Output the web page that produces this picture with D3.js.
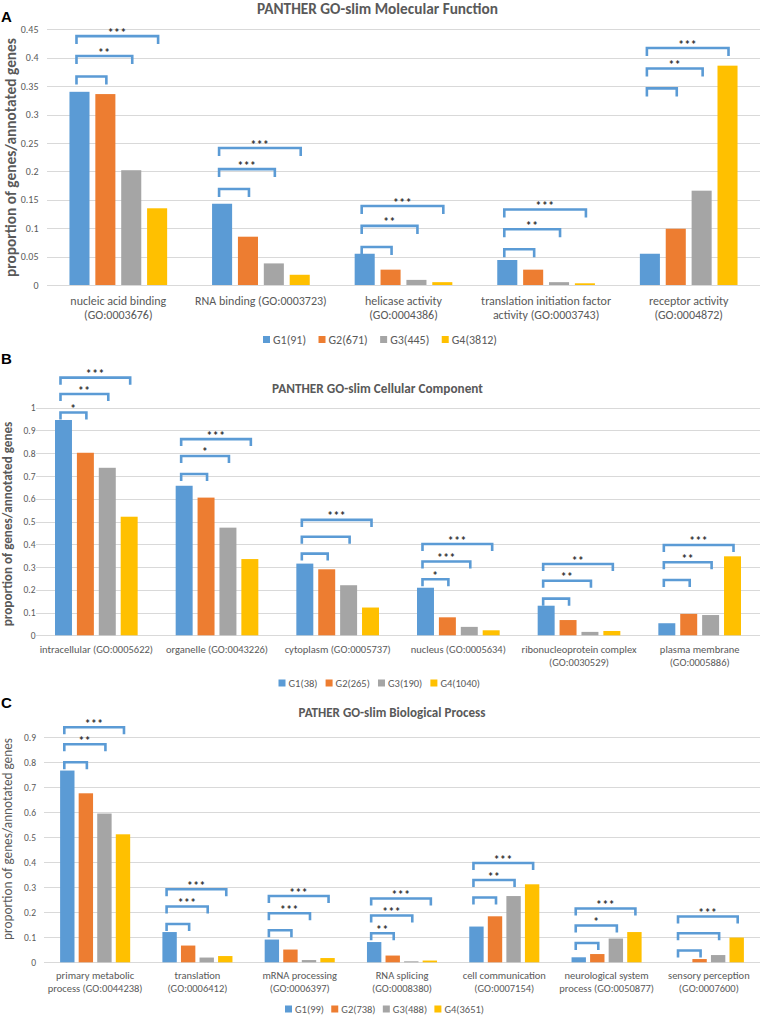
<!DOCTYPE html>
<html><head><meta charset="utf-8">
<script src="https://cdn.jsdelivr.net/npm/d3@7"></script>
<style>
html,body{margin:0;padding:0;background:#fff;}
svg{display:block;font-family:Carlito,Lato,"Open Sans",sans-serif;}
</style></head>
<body>
<svg id="chart" width="761" height="1015"></svg>
<script>
// ---------- DATA ----------
const groups = ["G1", "G2", "G3", "G4"];

// Panel A: Molecular Function
const mfTitle = "PANTHER GO-slim Molecular Function";
const mfCategories = [
  ["nucleic acid binding", "(GO:0003676)"],
  ["RNA binding (GO:0003723)"],
  ["helicase activity", "(GO:0004386)"],
  ["translation initiation factor", "activity (GO:0003743)"],
  ["receptor activity", "(GO:0004872)"]
];
const mfG1 = [0.340, 0.143, 0.055, 0.044, 0.055];
const mfG2 = [0.336, 0.085, 0.027, 0.027, 0.099];
const mfG3 = [0.202, 0.038, 0.009, 0.005, 0.166];
const mfG4 = [0.135, 0.018, 0.005, 0.003, 0.386];
const mfLegend = ["G1(91)", "G2(671)", "G3(445)", "G4(3812)"];
const mfTicks = [0, 0.05, 0.1, 0.15, 0.2, 0.25, 0.3, 0.35, 0.4, 0.45];
// significance brackets: [category index, target group, bracket level (y value), label]
const mfBrackets = [
  [0, "G2", 0.367, ""], [0, "G3", 0.403, "**"], [0, "G4", 0.438, "***"],
  [1, "G2", 0.169, ""], [1, "G3", 0.204, "***"], [1, "G4", 0.241, "***"],
  [2, "G2", 0.067, ""], [2, "G3", 0.104, "**"], [2, "G4", 0.139, "***"],
  [3, "G2", 0.063, ""], [3, "G3", 0.098, "**"], [3, "G4", 0.133, "***"],
  [4, "G2", 0.346, ""], [4, "G3", 0.381, "**"], [4, "G4", 0.417, "***"]
];

// Panel B: Cellular Component
const ccTitle = "PANTHER GO-slim Cellular Component";
const ccCategories = [
  ["intracellular (GO:0005622)"],
  ["organelle (GO:0043226)"],
  ["cytoplasm (GO:0005737)"],
  ["nucleus (GO:0005634)"],
  ["ribonucleoprotein complex", "(GO:0030529)"],
  ["plasma membrane", "(GO:0005886)"]
];
const ccG1 = [0.946, 0.657, 0.315, 0.209, 0.130, 0.053];
const ccG2 = [0.802, 0.605, 0.290, 0.079, 0.067, 0.094];
const ccG3 = [0.736, 0.473, 0.220, 0.037, 0.015, 0.089];
const ccG4 = [0.521, 0.335, 0.122, 0.022, 0.019, 0.347];
const ccLegend = ["G1(38)", "G2(265)", "G3(190)", "G4(1040)"];
const ccTicks = [0, 0.1, 0.2, 0.3, 0.4, 0.5, 0.6, 0.7, 0.8, 0.9, 1];
const ccBrackets = [
  [0, "G2", 0.979, "*"], [0, "G3", 1.060, "**"], [0, "G4", 1.132, "***"],
  [1, "G2", 0.709, ""], [1, "G3", 0.788, "*"], [1, "G4", 0.862, "***"],
  [2, "G2", 0.359, ""], [2, "G3", 0.433, ""], [2, "G4", 0.507, "***"],
  [3, "G2", 0.246, "*"], [3, "G3", 0.324, "***"], [3, "G4", 0.401, "***"],
  [4, "G2", 0.161, ""], [4, "G3", 0.240, "**"], [4, "G4", 0.313, "**"],
  [5, "G2", 0.243, ""], [5, "G3", 0.321, "**"], [5, "G4", 0.397, "***"]
];

// Panel C: Biological Process
const bpTitle = "PATHER GO-slim Biological Process";
const bpCategories = [
  ["primary metabolic", "process (GO:0044238)"],
  ["translation", "(GO:0006412)"],
  ["mRNA processing", "(GO:0006397)"],
  ["RNA splicing", "(GO:0008380)"],
  ["cell communication", "(GO:0007154)"],
  ["neurological system", "process (GO:0050877)"],
  ["sensory perception", "(GO:0007600)"]
];
const bpG1 = [0.767, 0.121, 0.091, 0.081, 0.143, 0.020, 0.000];
const bpG2 = [0.676, 0.067, 0.051, 0.027, 0.184, 0.033, 0.013];
const bpG3 = [0.595, 0.019, 0.009, 0.004, 0.265, 0.095, 0.029];
const bpG4 = [0.512, 0.025, 0.017, 0.007, 0.312, 0.121, 0.099];
const bpLegend = ["G1(99)", "G2(738)", "G3(488)", "G4(3651)"];
const bpTicks = [0, 0.1, 0.2, 0.3, 0.4, 0.5, 0.6, 0.7, 0.8, 0.9];
const bpBrackets = [
  [0, "G2", 0.800, ""], [0, "G3", 0.872, "**"], [0, "G4", 0.940, "***"],
  [1, "G2", 0.153, ""], [1, "G3", 0.223, "***"], [1, "G4", 0.292, "***"],
  [2, "G2", 0.128, ""], [2, "G3", 0.196, "***"], [2, "G4", 0.265, "***"],
  [3, "G2", 0.116, "**"], [3, "G3", 0.187, "***"], [3, "G4", 0.255, "***"],
  [4, "G2", 0.259, ""], [4, "G3", 0.329, "**"], [4, "G4", 0.397, "***"],
  [5, "G2", 0.077, ""], [5, "G3", 0.147, "*"], [5, "G4", 0.215, "***"],
  [6, "G2", 0.047, ""], [6, "G3", 0.116, ""], [6, "G4", 0.183, "***"]
];

const yTitle = "proportion of genes/annotated genes";

// ---------- STYLE / LAYOUT ----------
const colors = {G1: "#5B9BD5", G2: "#ED7D31", G3: "#A5A5A5", G4: "#FFC000"};
const textGray = "#595959";
const gridColor = "#D9D9D9";

const panels = [
  {letter: "A", letterY: 22, title: mfTitle, titleX: 377.5, titleY: 8, titleW: 241,
   cats: mfCategories, series: [mfG1, mfG2, mfG3, mfG4], legend: mfLegend, ticks: mfTicks, brackets: mfBrackets,
   x0: 47, x1: 760, yMax: 0.45, yTop: 29.3, yBottom: 285, tickX: 38.5, tickSize: 10,
   labelY: 301, labelDy: 14.3, labelSize: 12, legendY: 339.5, legendL: 263, legendR: 497, legendSize: 12,
   yTitleX: 10, yTitleY: 157.5, yTitleW: 239, yTitleWeight: "bold", leg: 8},
  {letter: "B", letterY: 364, title: ccTitle, titleX: 377.5, titleY: 388.5, titleW: 211,
   cats: ccCategories, series: [ccG1, ccG2, ccG3, ccG4], legend: ccLegend, ticks: ccTicks, brackets: ccBrackets,
   x0: 36, x1: 760, yMax: 1, yTop: 407.7, yBottom: 635.3, tickX: 35.5, tickSize: 9.5,
   labelY: 649, labelDy: 13, labelSize: 10.5, legendY: 683, legendL: 278.5, legendR: 480, legendSize: 10.5,
   yTitleX: 7.5, yTitleY: 524, yTitleW: 205, yTitleWeight: "bold", leg: 7},
  {letter: "C", letterY: 708, title: bpTitle, titleX: 392, titleY: 713, titleW: 187,
   cats: bpCategories, series: [bpG1, bpG2, bpG3, bpG4], legend: bpLegend, ticks: bpTicks, brackets: bpBrackets,
   x0: 44, x1: 760, yMax: 0.9, yTop: 737.3, yBottom: 962.3, tickX: 36, tickSize: 9.5,
   labelY: 975.7, labelDy: 12.8, labelSize: 10.5, legendY: 1009, legendL: 285, legendR: 484, legendSize: 10.5,
   yTitleX: 7.5, yTitleY: 839, yTitleW: 202, yTitleWeight: "normal", leg: 7}
];

const svg = d3.select("#chart");
const fmt = d => d === 0 ? "0" : String(+d.toFixed(2));

// fit a text element's font-size to a target width
function fitText(sel, targetW, base) {
  sel.attr("font-size", base);
  const w = sel.node().getComputedTextLength();
  if (w > 0) sel.attr("font-size", base * targetW / w);
}

panels.forEach(p => {
  const g = svg.append("g");
  const catIdx = p.cats.map((c, i) => i);
  const x0 = d3.scaleBand().domain(catIdx).range([p.x0, p.x1]).paddingInner(0.315).paddingOuter(0.1575);
  const x1 = d3.scaleBand().domain(groups).range([0, x0.bandwidth()]).paddingInner(0.225).paddingOuter(0);
  const y = d3.scaleLinear().domain([0, p.yMax]).range([p.yBottom, p.yTop]);

  // gridlines
  g.append("g").selectAll("line").data(p.ticks).join("line")
    .attr("x1", p.x0).attr("x2", p.x1)
    .attr("y1", d => Math.round(y(d)) + 0.5).attr("y2", d => Math.round(y(d)) + 0.5)
    .attr("stroke", gridColor).attr("stroke-width", 1);

  // y axis tick labels via d3 axis
  const axis = d3.axisLeft(y).tickValues(p.ticks).tickFormat(fmt).tickSize(0).tickPadding(0);
  const ag = g.append("g").attr("transform", `translate(${p.tickX},0)`).call(axis);
  ag.select(".domain").remove();
  ag.selectAll("text").attr("fill", textGray).attr("font-size", p.tickSize)
    .attr("font-family", "Carlito,Lato,'Open Sans',sans-serif");

  // bars
  const rows = catIdx.map(i => groups.map((k, j) => ({cat: i, key: k, value: p.series[j][i]})));
  g.append("g").selectAll("g").data(rows).join("g")
    .attr("transform", (d, i) => `translate(${x0(i)},0)`)
    .selectAll("rect").data(d => d).join("rect")
    .attr("x", d => x1(d.key)).attr("width", x1.bandwidth())
    .attr("y", d => y(d.value)).attr("height", d => y(0) - y(d.value))
    .attr("fill", d => colors[d.key]);

  // brackets
  const bg = g.append("g");
  p.brackets.forEach(([ci, to, level, label]) => {
    const xl = x0(ci) + x1("G1") + x1.bandwidth() / 2 - 3;
    const xr = x0(ci) + x1(to) + x1.bandwidth() / 2 + 1;
    const yt = y(level);
    bg.append("path")
      .attr("d", `M${xl},${yt + p.leg}V${yt}H${xr}V${yt + p.leg}`)
      .attr("fill", "none").attr("stroke", "#5B9BD5").attr("stroke-width", 2.6);
    if (label) {
      bg.append("text").attr("x", (xl + xr) / 2).attr("y", yt + 0.5)
        .attr("text-anchor", "middle").attr("font-size", 11.5).attr("font-weight", "bold")
        .attr("letter-spacing", 0.6)
        .attr("fill", "#333").text(label);
    }
  });

  // category labels
  const lg = g.append("g");
  p.cats.forEach((lines, i) => {
    lines.forEach((ln, k) => {
      lg.append("text").attr("x", x0(i) + x0.bandwidth() / 2).attr("y", p.labelY + k * p.labelDy)
        .attr("dominant-baseline", "central").attr("text-anchor", "middle")
        .attr("font-size", p.labelSize).attr("fill", textGray).text(ln);
    });
  });

  // title
  const tt = g.append("text").attr("x", p.titleX).attr("y", p.titleY).attr("dominant-baseline", "central")
    .attr("text-anchor", "middle").attr("font-weight", "bold")
    .attr("fill", textGray).text(p.title);
  fitText(tt, p.titleW, 13);

  // panel letter
  g.append("text").attr("x", 1).attr("y", p.letterY).attr("font-size", 15).attr("font-weight", "bold")
    .attr("font-family", "Liberation Sans,Arial,sans-serif").attr("fill", "#000").text(p.letter);

  // y axis title
  const yt = g.append("text").attr("transform", `translate(${p.yTitleX},${p.yTitleY}) rotate(-90)`)
    .attr("dominant-baseline", "central").attr("text-anchor", "middle")
    .attr("font-weight", p.yTitleWeight).attr("fill", textGray).text(yTitle);
  fitText(yt, p.yTitleW, 13);

  // legend
  const leg = g.append("g");
  let cx = 0;
  p.legend.forEach((txt, i) => {
    const it = leg.append("g");
    it.append("rect").attr("x", 0).attr("y", -3.5).attr("width", 7).attr("height", 7).attr("fill", colors[groups[i]]);
    const t = it.append("text").attr("x", 10).attr("y", 0).attr("dominant-baseline", "central")
      .attr("font-size", p.legendSize).attr("fill", textGray).text(txt);
    const w = 10 + t.node().getComputedTextLength();
    it.attr("transform", `translate(${cx},0)`);
    cx += w;
  });
  // spread items so the legend spans the reference width
  const items = leg.selectAll(":scope > g").nodes();
  const widths = items.map(n => n.getBBox().width);
  const gap = ((p.legendR - p.legendL) - d3.sum(widths)) / (items.length - 1);
  let pos = 0;
  items.forEach((n, i) => { d3.select(n).attr("transform", `translate(${pos},0)`); pos += widths[i] + gap; });
  leg.attr("transform", `translate(${p.legendL},${p.legendY})`);
});
</script>
</body></html>
